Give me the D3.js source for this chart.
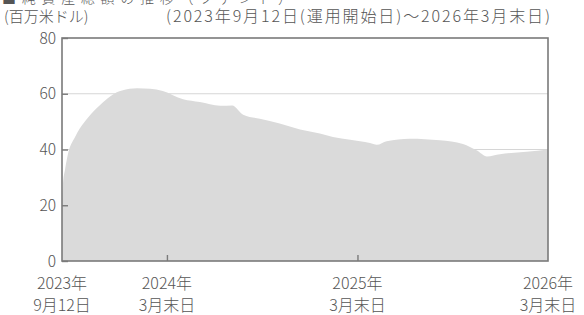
<!DOCTYPE html>
<html lang="ja">
<head>
<meta charset="UTF-8">
<title>純資産総額の推移</title>
<script src="https://d3js.org/d3.v7.min.js"></script>
<style>
  body { margin: 0; background: #fff; }
  svg text { font-family: "Noto Sans CJK JP", "Noto Sans", sans-serif; font-weight: 300; fill: #555; }
  .grid line { stroke: #d6d6d6; stroke-width: 1; }
  .area { fill: #dadada; }
  .frame { fill: none; stroke: #7a7a7a; stroke-width: 1.6; }
</style>
</head>
<body>
<script>
// 純資産総額（百万米ドル）
const dates = [
  "2023-09-12", "2023-09-14", "2023-09-18", "2023-09-23", "2023-10-07", "2023-10-16",
  "2023-11-01", "2023-11-24", "2023-12-03", "2023-12-26", "2024-01-05", "2024-02-03",
  "2024-02-28", "2024-03-23", "2024-05-01", "2024-06-02", "2024-07-11", "2024-08-03",
  "2024-08-24", "2024-09-25", "2024-11-02", "2024-12-11", "2025-01-18", "2025-02-12",
  "2025-03-17", "2025-04-24", "2025-05-07", "2025-05-26", "2025-07-09", "2025-09-05",
  "2025-10-19", "2025-11-15", "2025-12-04", "2025-12-29", "2026-02-18", "2026-03-31"
];
const netAssets = [
  22, 28, 33, 38, 44.5, 47.5,
  51.5, 56, 57.5, 60.5, 61.2, 62,
  61.8, 61, 58, 57, 55.7, 55.8,
  52.5, 51, 49.3, 47.2, 45.7, 44.5,
  43.5, 42.3, 41.7, 43, 43.9, 43.3,
  42, 39.6, 37.5, 38.3, 39.2, 40
];
const yTicks = [0, 20, 40, 60, 80];
const gridValues = [20, 40, 60];
const xTickDates = ["2023-09-12", "2024-03-31", "2025-03-31", "2026-03-31"];
const xTickLabels = [["2023年", "9月12日"], ["2024年", "3月末日"], ["2025年", "3月末日"], ["2026年", "3月末日"]];
const unitLabel = "(百万米ドル)";
const periodLabel = "(2023年9月12日(運用開始日)～2026年3月末日)";
const titleLabel = "■純資産総額の推移（ファンド）";

const width = 584, height = 315;
const m = { left: 62, right: 548, top: 38, bottom: 261 };

const parse = d3.timeParse("%Y-%m-%d");
const series = dates.map((d, i) => ({ date: parse(d), value: netAssets[i] }));

const svg = d3.select("body").append("svg")
  .attr("width", width)
  .attr("height", height);

const x = d3.scaleTime()
  .domain([parse(xTickDates[0]), parse(xTickDates[xTickDates.length - 1])])
  .range([m.left, m.right]);
const y = d3.scaleLinear().domain([0, 80]).range([m.bottom, m.top]);

// gridlines behind the area
svg.append("g").attr("class", "grid")
  .selectAll("line").data(gridValues).enter().append("line")
  .attr("x1", m.left).attr("x2", m.right)
  .attr("y1", d => y(d)).attr("y2", d => y(d));

// area
const area = d3.area()
  .x(d => x(d.date))
  .y0(y(0))
  .y1(d => y(d.value))
  .curve(d3.curveMonotoneX);
svg.append("path").datum(series).attr("class", "area").attr("d", area);

// frame
svg.append("rect").attr("class", "frame")
  .attr("x", m.left).attr("y", m.top)
  .attr("width", m.right - m.left).attr("height", m.bottom - m.top);

// y axis: inward ticks, labels on the left
const yAxis = d3.axisRight(y).tickValues(yTicks).tickSize(6).tickFormat("");
const gy = svg.append("g").attr("transform", `translate(${m.left},0)`).call(yAxis);
gy.select(".domain").remove();
gy.selectAll(".tick line").attr("stroke", "#7a7a7a").attr("stroke-width", 1.4);
svg.append("g").selectAll("text").data(yTicks).enter().append("text")
  .attr("x", m.left - 6).attr("y", d => y(d) + 5.5)
  .attr("text-anchor", "end")
  .style("font-size", "15.5px")
  .text(d => d);

// x axis: inward ticks at the inner dates
const xAxis = d3.axisTop(x).tickValues(xTickDates.slice(1, 3).map(parse)).tickSize(6).tickFormat("");
const gx = svg.append("g").attr("transform", `translate(0,${m.bottom})`).call(xAxis);
gx.select(".domain").remove();
gx.selectAll(".tick line").attr("stroke", "#7a7a7a").attr("stroke-width", 1.4);

const xl = svg.append("g").selectAll("text").data(xTickDates).enter().append("text")
  .attr("x", d => x(parse(d)))
  .attr("text-anchor", "middle")
  .style("font-size", "16px");
xl.append("tspan").attr("x", d => x(parse(d))).attr("y", 289).text((d, i) => xTickLabels[i][0]);
xl.append("tspan").attr("x", d => x(parse(d))).attr("y", 311).text((d, i) => xTickLabels[i][1]);

// header texts (top line is cut by the picture edge, as in the source)
svg.append("text").attr("x", 2).attr("y", 3).style("font-size", "14px")
  .attr("textLength", 290).attr("lengthAdjust", "spacing").text(titleLabel);
svg.append("text").attr("x", 4).attr("y", 21.5).style("font-size", "15px").text(unitLabel);
svg.append("text").attr("x", 166).attr("y", 21.5).style("font-size", "16px")
  .attr("textLength", 384).attr("lengthAdjust", "spacing")
  .text(periodLabel);
</script>
</body>
</html>
